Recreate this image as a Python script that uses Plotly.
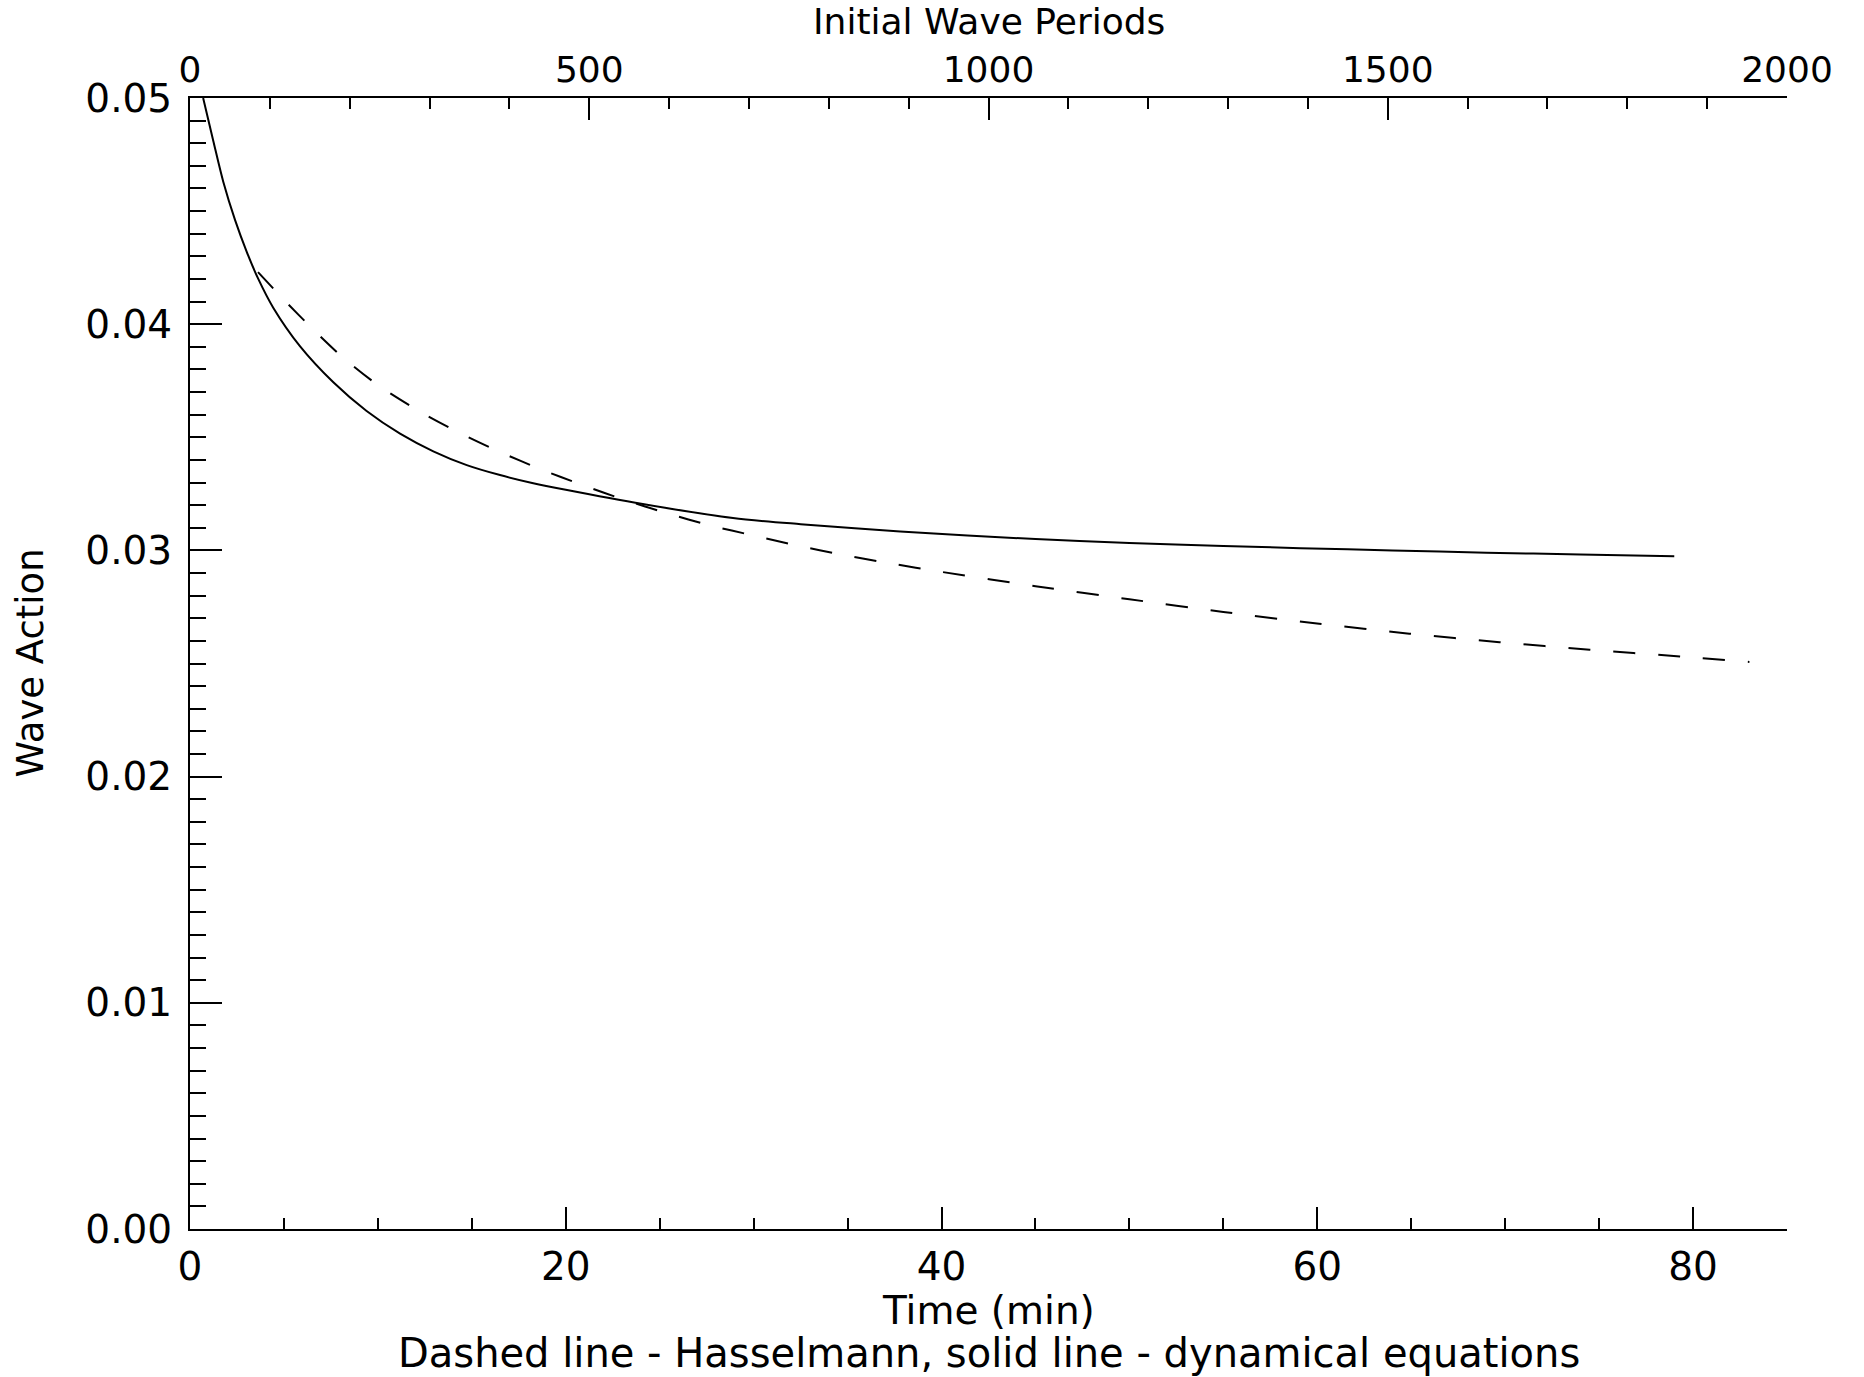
import plotly.graph_objects as go

# Solid line - dynamical equations
time_solid = [0.7, 1.24, 1.77, 2.40, 3.02, 3.64, 4.43, 5.85, 7.63, 9.40, 11.18, 12.95,
              14.73, 16.5, 18.27, 20.0, 24.1, 28.9, 32.5, 37.8, 45.0, 50.0, 55.0, 59.1,
              64.0, 69.0, 74.0, 79.0]
action_solid = [0.0500, 0.04810, 0.04630, 0.04460, 0.04320, 0.04199, 0.04073, 0.03903,
                0.03743, 0.03616, 0.03516, 0.03438, 0.03377, 0.03333, 0.03297, 0.03268,
                0.03205, 0.03143, 0.03116, 0.03084, 0.03050, 0.03033, 0.03020, 0.03010,
                0.03000, 0.02990, 0.02982, 0.02974]

# Dashed line - Hasselmann
time_dash = [3.62, 5.09, 6.52, 8.18, 10.1, 12.42, 14.46, 16.5, 18.63, 20.85, 23.07, 25.37,
             27.7, 29.98, 32.3, 34.6, 36.9, 40.0, 45.0, 50.0, 55.0, 60.1, 64.9, 69.7,
             74.5, 79.3, 83.0]
action_dash = [0.04230, 0.04100, 0.03980, 0.03850, 0.03725, 0.03605, 0.03515, 0.03435,
               0.03360, 0.03290, 0.03225, 0.03165, 0.03110, 0.03066, 0.03022, 0.02983,
               0.02948, 0.02905, 0.02842, 0.02784, 0.02728, 0.02676, 0.02632, 0.02594,
               0.02561, 0.02531, 0.02507]

time_range = [0, 85]
period_range = [0, 2000]
action_range = [0, 0.05]

x_title = "Time (min)"
x2_title = "Initial Wave Periods"
y_title = "Wave Action"
caption = "Dashed line - Hasselmann, solid line - dynamical equations"

FONT = "DejaVu Sans"

fig = go.Figure()
fig.add_trace(go.Scatter(x=time_solid, y=action_solid, mode="lines",
                         line=dict(color="black", width=2, shape="spline", smoothing=0.8),
                         showlegend=False, hoverinfo="skip"))
fig.add_trace(go.Scatter(x=time_dash, y=action_dash, mode="lines",
                         line=dict(color="black", width=2, dash="22px,23px",
                                   shape="spline", smoothing=0.8),
                         showlegend=False, hoverinfo="skip"))
# invisible helper trace so the top (periods) axis is drawn
fig.add_trace(go.Scatter(x=period_range, y=action_range, xaxis="x2", mode="lines",
                         line=dict(width=0, color="rgba(0,0,0,0)"), opacity=0,
                         showlegend=False, hoverinfo="skip"))

W, H = 1864, 1377
L, R, T, B = 190, 77, 98, 148
ph = H - T - B

tickfont = dict(family=FONT, size=39, color="black")
toptickfont = dict(family=FONT, size=36, color="black")

fig.update_layout(
    width=W, height=H,
    margin=dict(l=L, r=R, t=T, b=B, pad=0),
    paper_bgcolor="white", plot_bgcolor="white",
    font=dict(family=FONT, color="black"),
    xaxis=dict(range=time_range, dtick=20, tick0=0, ticks="inside", ticklen=22,
               tickwidth=2, tickcolor="black", showline=True, linewidth=2,
               linecolor="black", showgrid=False, zeroline=False, tickfont=tickfont,
               ticklabelstandoff=2,
               minor=dict(dtick=5, tick0=0, ticks="inside", ticklen=11, tickwidth=2,
                          tickcolor="black", showgrid=False)),
    xaxis2=dict(range=period_range, dtick=500, tick0=0, overlaying="x", side="top",
                anchor="y", ticks="inside", ticklen=22, tickwidth=2, tickcolor="black",
                showline=True, linewidth=2, linecolor="black", showgrid=False,
                zeroline=False, tickfont=toptickfont, ticklabelstandoff=0,
                minor=dict(dtick=100, tick0=0, ticks="inside", ticklen=11, tickwidth=2,
                           tickcolor="black", showgrid=False)),
    yaxis=dict(range=action_range, dtick=0.01, tick0=0, tickformat=".2f", ticks="inside",
               ticklen=32, tickwidth=2, tickcolor="black", showline=True, linewidth=2,
               linecolor="black", showgrid=False, zeroline=False, tickfont=tickfont,
               ticklabelstandoff=8,
               minor=dict(dtick=0.001, tick0=0, ticks="inside", ticklen=16, tickwidth=2,
                          tickcolor="black", showgrid=False)),
)

def py(px):
    return (H - B - px) / ph

annots = [
    dict(text=x2_title, x=0.5, y=py(22), xref="paper", yref="paper",
         xanchor="center", yanchor="middle", showarrow=False,
         font=dict(family=FONT, size=36, color="black")),
    dict(text=x_title, x=0.5, y=py(1310), xref="paper", yref="paper",
         xanchor="center", yanchor="middle", showarrow=False,
         font=dict(family=FONT, size=39, color="black")),
    dict(text=caption, x=0.5, y=py(1353), xref="paper", yref="paper",
         xanchor="center", yanchor="middle", showarrow=False,
         font=dict(family=FONT, size=40, color="black")),
    dict(text=y_title, x=(30 - L) / (W - L - R), y=0.5, xref="paper", yref="paper",
         xanchor="center", yanchor="middle", showarrow=False, textangle=-90,
         font=dict(family=FONT, size=37, color="black")),
]
fig.update_layout(annotations=annots)

fig.write_html("out.html")
